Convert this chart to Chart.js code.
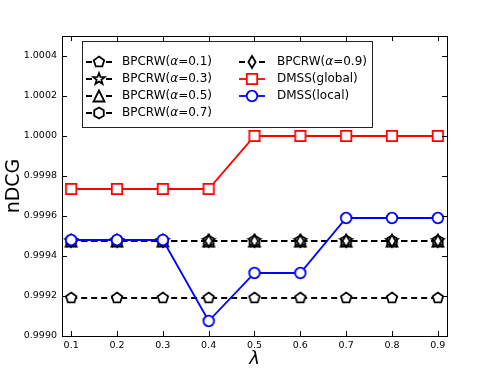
<!DOCTYPE html>
<html>
<head>
<meta charset="utf-8">
<script src="https://cdn.jsdelivr.net/npm/chart.js@4/dist/chart.umd.min.js"></script>
<style>
  body { margin: 0; background: #fff; }
  #wrap { width: 498px; height: 374px; position: relative; }
</style>
</head>
<body>
<div id="wrap"><canvas id="ndcgChart"></canvas></div>
<script>
// data
const lambdas = [0.1, 0.2, 0.3, 0.4, 0.5, 0.6, 0.7, 0.8, 0.9];
const yTicks = [0.9990, 0.9992, 0.9994, 0.9996, 0.9998, 1.0000, 1.0002, 1.0004];
const bpcrw01 = [0.99919, 0.99919, 0.99919, 0.99919, 0.99919, 0.99919, 0.99919, 0.99919, 0.99919];
const bpcrw03 = [0.999475, 0.999475, 0.999475, 0.999475, 0.999475, 0.999475, 0.999475, 0.999475, 0.999475];
const bpcrw05 = [0.999475, 0.999475, 0.999475, 0.999475, 0.999475, 0.999475, 0.999475, 0.999475, 0.999475];
const bpcrw07 = [0.999475, 0.999475, 0.999475, 0.999475, 0.999475, 0.999475, 0.999475, 0.999475, 0.999475];
const bpcrw09 = [0.999475, 0.999475, 0.999475, 0.999475, 0.999475, 0.999475, 0.999475, 0.999475, 0.999475];
const dmssGlobal = [0.999735, 0.999735, 0.999735, 0.999735, 1.0000, 1.0000, 1.0000, 1.0000, 1.0000];
const dmssLocal = [0.99948, 0.99948, 0.99948, 0.999075, 0.999315, 0.999315, 0.99959, 0.99959, 0.99959];

// matplotlib-like marker images
function makeMarker(shape, color) {
    const s = 20;
    const c = document.createElement('canvas');
    c.width = s; c.height = s;
    const g = c.getContext('2d');
    g.translate(s / 2, s / 2);
    g.lineWidth = 1.8;
    g.strokeStyle = color;
    g.fillStyle = '#fff';
    g.beginPath();
    const poly = (n, r, rot) => {
        for (let k = 0; k < n; k++) {
            const a = (rot + k * 360 / n) * Math.PI / 180;
            const x = r * Math.cos(a), y = r * Math.sin(a);
            if (k === 0) g.moveTo(x, y); else g.lineTo(x, y);
        }
    };
    if (shape === 'pentagon') poly(5, 5.5, -90);
    else if (shape === 'hexagon') poly(6, 5.5, -90);
    else if (shape === 'triangle') { g.moveTo(0, -5.5); g.lineTo(-5.5, 5.5); g.lineTo(5.5, 5.5); }
    else if (shape === 'star') {
        for (let k = 0; k < 10; k++) {
            const r = k % 2 === 0 ? 6 : 2.5;
            const a = (-90 + k * 36) * Math.PI / 180;
            if (k === 0) g.moveTo(r * Math.cos(a), r * Math.sin(a));
            else g.lineTo(r * Math.cos(a), r * Math.sin(a));
        }
    }
    else if (shape === 'diamond') { g.moveTo(0, -6); g.lineTo(3.6, 0); g.lineTo(0, 6); g.lineTo(-3.6, 0); }
    else if (shape === 'square') g.rect(-5.2, -5.2, 10.4, 10.4);
    else if (shape === 'circle') g.arc(0, 0, 5.3, 0, Math.PI * 2);
    g.closePath();
    g.fill();
    g.stroke();
    return c;
}

const seriesInfo = [
    { alpha: '0.1', data: bpcrw01, shape: 'pentagon', color: '#000', dash: [6, 4] },
    { alpha: '0.3', data: bpcrw03, shape: 'star', color: '#000', dash: [6, 4] },
    { alpha: '0.5', data: bpcrw05, shape: 'triangle', color: '#000', dash: [6, 4] },
    { alpha: '0.7', data: bpcrw07, shape: 'hexagon', color: '#000', dash: [6, 4] },
    { alpha: '0.9', data: bpcrw09, shape: 'diamond', color: '#000', dash: [6, 4] },
    { label: 'DMSS(global)', data: dmssGlobal, shape: 'square', color: '#ff0000', dash: [] },
    { label: 'DMSS(local)', data: dmssLocal, shape: 'circle', color: '#0000ff', dash: [] }
];

const datasets = seriesInfo.map((s, i) => ({
    label: s.label || ('BPCRW(α=' + s.alpha + ')'),
    data: s.data.map((v, j) => ({ x: lambdas[j], y: v })),
    borderColor: s.color,
    borderWidth: s.dash.length ? 2 : 1.8,
    borderDash: s.dash,
    pointStyle: makeMarker(s.shape, s.color),
    pointRadius: 6,
    tension: 0,
    fill: false,
    order: seriesInfo.length - i
}));

const font = 'DejaVu Sans';

// frame, inward ticks, axis titles and legend
const decorPlugin = {
    id: 'decor',
    afterDraw(chart) {
        const { ctx, chartArea: a, scales } = chart;
        ctx.save();
        ctx.strokeStyle = '#000';
        ctx.lineWidth = 1;
        ctx.setLineDash([]);
        const tl = 5;
        ctx.beginPath();
        lambdas.forEach(v => {
            const x = Math.round(scales.x.getPixelForValue(v)) + 0.5;
            ctx.moveTo(x, a.bottom); ctx.lineTo(x, a.bottom - tl);
            ctx.moveTo(x, a.top); ctx.lineTo(x, a.top + tl);
        });
        yTicks.forEach(v => {
            const y = Math.round(scales.y.getPixelForValue(v)) + 0.5;
            ctx.moveTo(a.left, y); ctx.lineTo(a.left + tl, y);
            ctx.moveTo(a.right, y); ctx.lineTo(a.right - tl, y);
        });
        ctx.stroke();
        ctx.strokeRect(Math.round(a.left) + 0.5, Math.round(a.top) + 0.5,
            Math.round(a.right - a.left), Math.round(a.bottom - a.top));

        // axis titles
        ctx.fillStyle = '#000';
        ctx.textAlign = 'center';
        ctx.textBaseline = 'middle';
        ctx.font = 'italic 18px "' + font + '"';
        ctx.fillText('λ', (a.left + a.right) / 2, 359);
        ctx.save();
        ctx.translate(14, (a.top + a.bottom) / 2);
        ctx.rotate(-Math.PI / 2);
        ctx.font = '19px "' + font + '"';
        ctx.fillText('nDCG', 0, 0);
        ctx.restore();

        // legend
        const bx = 82, by = 41, bw = 290, bh = 86;
        ctx.fillStyle = '#fff';
        ctx.fillRect(bx, by, bw, bh);
        ctx.strokeStyle = '#222';
        ctx.lineWidth = 1;
        ctx.strokeRect(bx + 0.5, by + 0.5, bw, bh);
        const rows = [62, 79, 96, 113];
        const cols = [{ lx: 86, tx: 122 }, { lx: 239, tx: 277 }];
        const meta = chart.data.datasets;
        seriesInfo.forEach((s, i) => {
            const col = i < 4 ? cols[0] : cols[1];
            const y = rows[i < 4 ? i : i - 4];
            const ds = meta[i];
            ctx.strokeStyle = s.color;
            ctx.lineWidth = ds.borderWidth;
            ctx.setLineDash(s.dash);
            ctx.beginPath();
            ctx.moveTo(col.lx, y); ctx.lineTo(col.lx + 26, y);
            ctx.stroke();
            ctx.setLineDash([]);
            const img = ds.pointStyle;
            ctx.drawImage(img, col.lx + 13 - img.width / 2, y - img.height / 2);
            ctx.fillStyle = '#000';
            ctx.textAlign = 'left';
            ctx.textBaseline = 'middle';
            let x = col.tx;
            const parts = s.alpha
                ? [['BPCRW(', false], ['α', true], ['=' + s.alpha + ')', false]]
                : [[s.label, false]];
            parts.forEach(([t, it]) => {
                ctx.font = (it ? 'italic ' : '') + '12px "' + font + '"';
                ctx.fillText(t, x, y);
                x += ctx.measureText(t).width;
            });
        });
        ctx.restore();
    }
};

new Chart(document.getElementById('ndcgChart'), {
    type: 'line',
    data: { datasets },
    options: {
        responsive: true,
        maintainAspectRatio: false,
        animation: false,
        layout: { padding: { left: 0, right: 51, top: 36, bottom: 0 } },
        plugins: { legend: { display: false }, tooltip: { enabled: false } },
        scales: {
            x: {
                type: 'linear',
                min: 0.08,
                max: 0.92,
                afterBuildTicks: s => { s.ticks = lambdas.map(v => ({ value: v })); },
                afterFit: s => { s.height = 38; },
                grid: { display: false, drawTicks: false },
                border: { display: false },
                ticks: {
                    padding: 4,
                    color: '#000',
                    maxRotation: 0,
                    font: { family: font, size: 9.5 },
                    callback: v => v.toFixed(1)
                }
            },
            y: {
                min: 0.9990,
                max: 1.0005,
                afterBuildTicks: s => { s.ticks = yTicks.map(v => ({ value: v })); },
                afterFit: s => { s.width = 62; },
                grid: { display: false, drawTicks: false },
                border: { display: false },
                ticks: {
                    padding: 5,
                    color: '#000',
                    font: { family: font, size: 9.5 },
                    callback: v => v.toFixed(4)
                }
            }
        }
    },
    plugins: [decorPlugin]
});
</script>
</body>
</html>
